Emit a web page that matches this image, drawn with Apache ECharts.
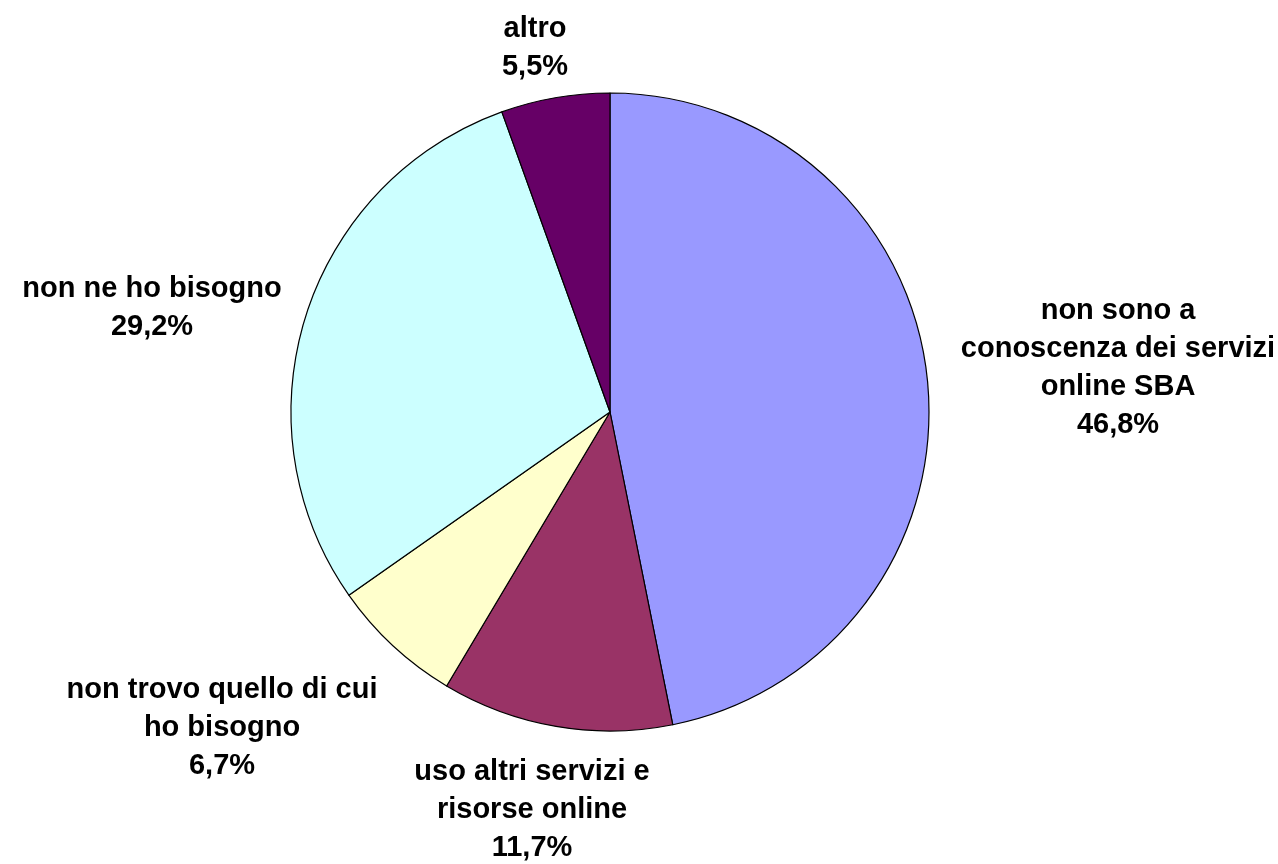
<!DOCTYPE html>
<html>
<head>
<meta charset="utf-8">
<style>
  html, body { margin: 0; padding: 0; background: #fff; }
  #main { width: 1278px; height: 864px; }
</style>
<script src="https://cdn.jsdelivr.net/npm/echarts@6/dist/echarts.min.js"></script>
</head>
<body>
<div id="main"></div>
<script>
// data
var names = ['non sono a\nconoscenza dei servizi\nonline SBA', 'uso altri servizi e\nrisorse online', 'non trovo quello di cui\nho bisogno', 'non ne ho bisogno', 'altro'];
var values = [46.8, 11.7, 6.7, 29.2, 5.5];
var colors = ['#9999FF', '#993366', '#FFFFCC', '#CCFFFF', '#660066'];

// where each label block sits (centre of the text)
var labelPos = [[1118, 368], [532, 810], [222, 728], [152, 308], [535, 48]];

var datas = [];
for (var i = 0; i < values.length; i++) {
    datas.push({name: names[i], value: values[i], itemStyle: {color: colors[i]}});
}

var myChart = echarts.init(document.getElementById('main'));
var option = {
    animation: false,
    series: [
        {
            type: 'pie',
            center: [610, 412],
            radius: [0, 319],
            startAngle: 90,
            clockwise: true,
            data: datas,
            itemStyle: {borderColor: '#000', borderWidth: 1.2},
            label: {
                show: true,
                position: 'outside',
                formatter: function(p) {
                    return p.name + '\n' + p.value.toFixed(1).replace('.', ',') + '%';
                },
                fontFamily: 'Liberation Sans, Arial, sans-serif',
                fontWeight: 'bold',
                fontSize: 29,
                lineHeight: 38,
                color: '#000',
                align: 'center',
                overflow: 'none',
                width: 400
            },
            labelLine: {show: false},
            labelLayout: function(p) {
                var pos = labelPos[p.dataIndex];
                return {x: pos[0], y: pos[1], align: 'center', verticalAlign: 'middle'};
            },
            emphasis: {disabled: true}
        }
    ]
};
myChart.setOption(option);
</script>
</body>
</html>
